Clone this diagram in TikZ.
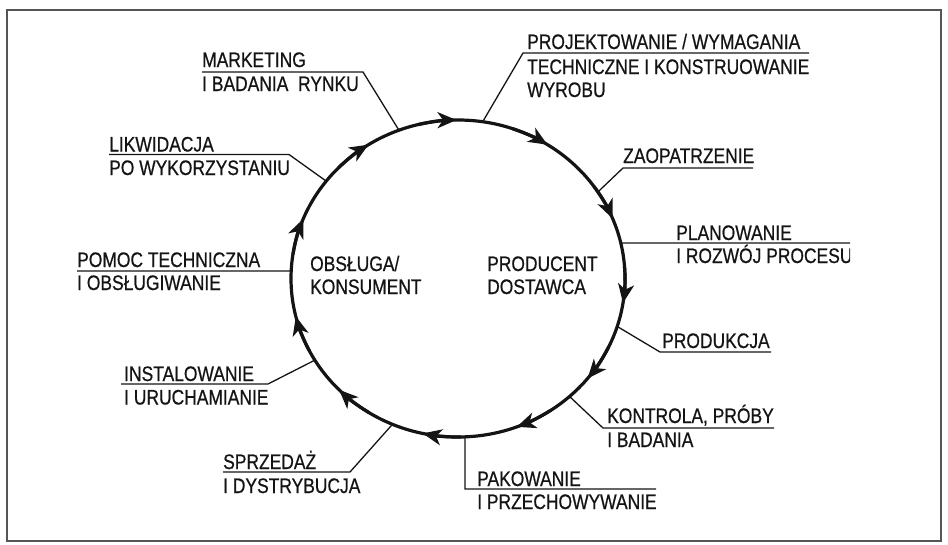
\documentclass[tikz,border=0pt]{standalone}
\usepackage{fontspec}
\setmainfont{Liberation Sans}[FakeStretch=0.83,FakeBold=0.6]
\usetikzlibrary{arrows.meta,calc}
\definecolor{ink}{HTML}{141414}
\definecolor{framec}{HTML}{555555}
\newcommand\lblfont{\fontsize{21}{24}\selectfont}
\begin{document}
\begin{tikzpicture}[x=1pt,y=-1pt,
  lbl/.style={anchor=base west, inner sep=0pt, font=\lblfont, text=ink},
  leader/.style={draw=ink, line width=1.3pt},
  cyc/.style={draw=ink, line width=3.2pt},
  arrowseg/.style={draw=ink, line width=3.2pt, -{Stealth[length=19pt 0 0,width=16pt 0 0,inset=5.5pt]}},
  framebox/.style={draw=framec, line width=1.3pt}]
\useasboundingbox (0,0) rectangle (948,544);
\draw[framebox] (7,10) rectangle (941,541);
% cycle
\coordinate (c) at (458,278.5);
\draw[cyc] (c) ellipse [x radius=167, y radius=158.5];
\foreach \t in {-93.8,-60.9,-25.5,5.6,35.8,66.1,98.9,132.1,162.9,198.8,234.3}{
  \draw[arrowseg] ($(c)+(\t-10:167 and 158.5)$) arc[start angle=\t-10, end angle=\t+3.3, x radius=167, y radius=158.5];
}
% points on the cycle
\coordinate (pMk) at ($(c)+(-110.7:167 and 158.5)$);
\coordinate (pPr) at ($(c)+(-81.5:167 and 158.5)$);
\coordinate (pZa) at ($(c)+(-33.1:167 and 158.5)$);
\coordinate (pPl) at ($(c)+(-12.94:167 and 158.5)$);
\coordinate (pPd) at ($(c)+(17.6:167 and 158.5)$);
\coordinate (pKo) at ($(c)+(48.1:167 and 158.5)$);
\coordinate (pPa) at ($(c)+(87.6:167 and 158.5)$);
\coordinate (pSp) at ($(c)+(113.1:167 and 158.5)$);
\coordinate (pIn) at ($(c)+(149:167 and 158.5)$);
\coordinate (pPo) at ($(c)+(182.71:167 and 158.5)$);
\coordinate (pLi) at ($(c)+(-142.1:167 and 158.5)$);
% centre texts
\node[lbl] (ob1) at (310,271) {OBSŁUGA/};
\node[lbl] (ob2) at (310,294) {KONSUMENT};
\node[lbl] (pr1) at (487,271) {PRODUCENT};
\node[lbl] (pr2) at (487,294) {DOSTAWCA};
% MARKETING
\node[lbl] (mk1) at (202,67) {MARKETING};
\node[lbl] (mk2) at (202,91) {I BADANIA\ \ RYNKU};
\coordinate (uMkA) at (202,72); \coordinate (uMkB) at (363,72);
\draw[leader] (uMkA) -- (uMkB) -- (pMk);
% PROJEKTOWANIE
\node[lbl] (pj1) at (527,49) {PROJEKTOWANIE / WYMAGANIA};
\node[lbl] (pj2) at (527,74) {TECHNICZNE I KONSTRUOWANIE};
\node[lbl] (pj3) at (527,97) {WYROBU};
\coordinate (uPrA) at (809,53); \coordinate (uPrB) at (523,53);
\draw[leader] (uPrA) -- (uPrB) -- (pPr);
% ZAOPATRZENIE
\node[lbl] (za1) at (623,163) {ZAOPATRZENIE};
\coordinate (uZaA) at (753,168); \coordinate (uZaB) at (623,168);
\draw[leader] (uZaA) -- (uZaB) -- (pZa);
% PLANOWANIE
\node[lbl] (pl1) at (676,240) {PLANOWANIE};
\begin{scope}
\clip (600,240) rectangle (850,280);
\node[lbl] (pl2) at (676,263) {I ROZWÓJ PROCESU};
\end{scope}
\coordinate (uPlA) at (850,243);
\draw[leader] (uPlA) -- (pPl);
% PRODUKCJA
\node[lbl] (pd1) at (662,348) {PRODUKCJA};
\coordinate (uPdA) at (771,352); \coordinate (uPdB) at (660,352);
\draw[leader] (uPdA) -- (uPdB) -- (pPd);
% KONTROLA
\node[lbl] (ko1) at (607,423) {KONTROLA, PRÓBY};
\node[lbl] (ko2) at (607,447) {I BADANIA};
\coordinate (uKoA) at (774,428); \coordinate (uKoB) at (603,428);
\draw[leader] (uKoA) -- (uKoB) -- (pKo);
% PAKOWANIE
\node[lbl] (pa1) at (477,486) {PAKOWANIE};
\node[lbl] (pa2) at (477,509) {I PRZECHOWYWANIE};
\coordinate (uPaA) at (656,489); \coordinate (uPaB) at (465,489);
\draw[leader] (uPaA) -- (uPaB) -- (pPa);
% SPRZEDAZ
\node[lbl] (sp1) at (223,469) {SPRZEDAŻ};
\node[lbl] (sp2) at (223,493) {I DYSTRYBUCJA};
\coordinate (uSpA) at (223,472); \coordinate (uSpB) at (350,472);
\draw[leader] (uSpA) -- (uSpB) -- (pSp);
% INSTALOWANIE
\node[lbl] (in1) at (124,381) {INSTALOWANIE};
\node[lbl] (in2) at (124,404.5) {I URUCHAMIANIE};
\coordinate (uInA) at (121,384); \coordinate (uInB) at (268,384);
\draw[leader] (uInA) -- (uInB) -- (pIn);
% POMOC
\node[lbl] (po1) at (77,267) {POMOC TECHNICZNA};
\node[lbl] (po2) at (77,290) {I OBSŁUGIWANIE};
\coordinate (uPoA) at (77,271);
\draw[leader] (uPoA) -- (pPo);
% LIKWIDACJA
\node[lbl] (li1) at (109,151.5) {LIKWIDACJA};
\node[lbl] (li2) at (109,175) {PO WYKORZYSTANIU};
\coordinate (uLiA) at (109,154.5); \coordinate (uLiB) at (289,154.5);
\draw[leader] (uLiA) -- (uLiB) -- (pLi);
\end{tikzpicture}
\end{document}
